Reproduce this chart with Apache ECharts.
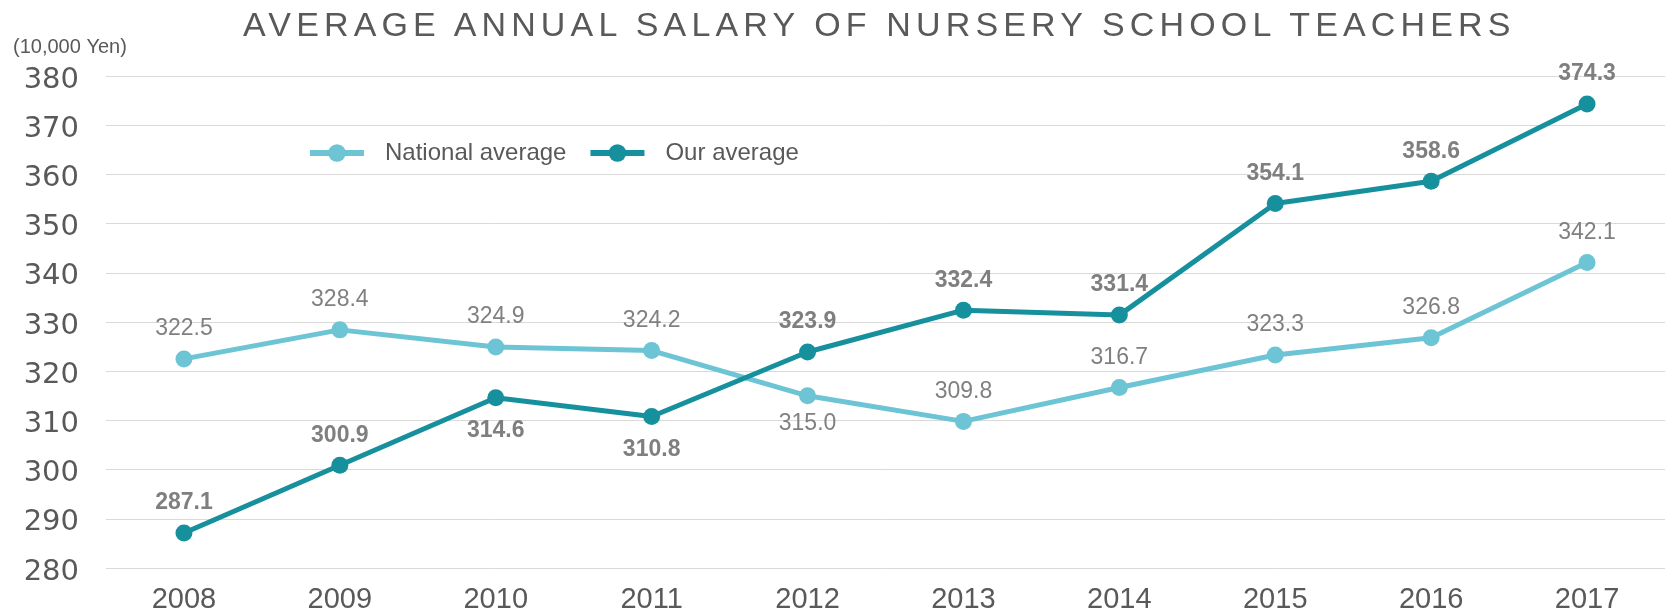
<!DOCTYPE html>
<html>
<head>
<meta charset="utf-8">
<title>Average annual salary of nursery school teachers</title>
<script src="https://cdn.jsdelivr.net/npm/echarts@6/dist/echarts.min.js"></script>
<style>
  body { margin: 0; background: #fff; }
  #wrap { position: relative; width: 1665px; height: 614px; }
  #charts { width: 1665px; height: 614px; }
  #title {
    position: absolute; left: 243px; top: 7px;
    font-family: "Liberation Sans", Arial, sans-serif;
    font-size: 34px; line-height: 34px; letter-spacing: 5.15px;
    color: #595959; white-space: nowrap;
  }
</style>
</head>
<body>
<div id="wrap">
  <div id="charts"></div>
  <div id="title">AVERAGE ANNUAL SALARY OF NURSERY SCHOOL TEACHERS</div>
</div>
<script>
var years = ['2008', '2009', '2010', '2011', '2012', '2013', '2014', '2015', '2016', '2017'];
var nationalAverage = [322.5, 328.4, 324.9, 324.2, 315.0, 309.8, 316.7, 323.3, 326.8, 342.1];
var ourAverage = [287.1, 300.9, 314.6, 310.8, 323.9, 332.4, 331.4, 354.1, 358.6, 374.3];
var seriesNames = ['National average', 'Our average'];

// years whose value label sits under the point
var nationalBelow = ['2012'];
var ourBelow = ['2010', '2011'];

function withLabels(values, below, belowDist) {
  return values.map(function (v, i) {
    var under = below.indexOf(years[i]) >= 0;
    return {
      value: v,
      label: { position: under ? 'bottom' : 'top', distance: under ? belowDist : 10 }
    };
  });
}

var chart = echarts.init(document.getElementById('charts'));
var option = {
  animation: false,
  backgroundColor: '#fff',
  textStyle: { fontFamily: '"Liberation Sans", Arial, sans-serif' },
  grid: { left: 106, right: -4, top: 76, bottom: 46 },
  legend: {
    left: 302,
    top: 136,
    itemWidth: 54,
    itemHeight: 22,
    itemGap: 21,
    data: seriesNames,
    lineStyle: { width: 6 },
    textStyle: { fontSize: 24, color: '#595959', padding: [0, 0, 0, 16] }
  },
  graphic: [{
    type: 'text',
    left: 13,
    top: 37,
    style: {
      text: '(10,000 Yen)',
      fill: '#595959',
      font: '20px "Liberation Sans", Arial, sans-serif'
    }
  }],
  xAxis: {
    type: 'category',
    data: years,
    boundaryGap: true,
    axisLine: { show: false },
    axisTick: { show: false },
    axisLabel: { fontSize: 29, color: '#595959', margin: 17 }
  },
  yAxis: {
    type: 'value',
    min: 280,
    max: 380,
    interval: 10,
    axisLine: { show: false },
    axisTick: { show: false },
    axisLabel: {
      fontSize: 29,
      color: '#595959',
      margin: 27,
      verticalAlign: 'top',
      lineHeight: 8,
      fontFamily: '"DejaVu Sans", sans-serif'
    },
    splitLine: { lineStyle: { color: '#d9d9d9', width: 1 } }
  },
  series: [
    {
      name: seriesNames[0],
      type: 'line',
      data: withLabels(nationalAverage, nationalBelow, 8),
      symbol: 'circle',
      symbolSize: 17,
      color: '#6cc4d4',
      lineStyle: { width: 5, color: '#6cc4d4' },
      label: {
        show: true,
        fontSize: 23,
        color: '#808080',
        formatter: function (p) { return p.value.toFixed(1); }
      },
      z: 2
    },
    {
      name: seriesNames[1],
      type: 'line',
      data: withLabels(ourAverage, ourBelow, 13),
      symbol: 'circle',
      symbolSize: 17,
      color: '#17909d',
      lineStyle: { width: 5, color: '#17909d' },
      label: {
        show: true,
        fontSize: 23,
        fontWeight: 'bold',
        color: '#7f7f7f',
        formatter: function (p) { return p.value.toFixed(1); }
      },
      z: 3
    }
  ]
};
chart.setOption(option);
</script>
</body>
</html>
